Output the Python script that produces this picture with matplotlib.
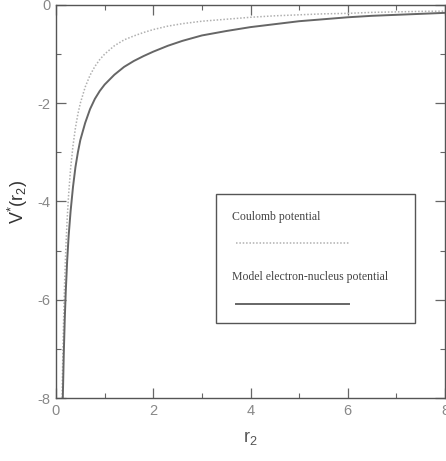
import matplotlib
matplotlib.use("Agg")
import matplotlib.pyplot as plt
from matplotlib.patches import Rectangle
from matplotlib.lines import Line2D

plt.rcParams['font.family'] = ['Liberation Sans', 'DejaVu Sans']
plt.rcParams['axes.unicode_minus'] = False
plt.rcParams['mathtext.default'] = 'regular'

# data
r_values = [0.125, 0.14, 0.16, 0.18, 0.2, 0.23, 0.26, 0.3, 0.35, 0.4, 0.45, 0.5,
            0.6, 0.7, 0.8, 0.9, 1.0, 1.2, 1.4, 1.6, 1.8, 2.0, 2.3, 2.6, 3.0,
            3.5, 4.0, 4.5, 5.0, 5.5, 6.0, 6.5, 7.0, 7.5, 8.0]
coulomb = [-8.0, -7.14, -6.25, -5.56, -5.0, -4.35, -3.85, -3.33, -2.86, -2.5, -2.22, -2.0,
           -1.67, -1.43, -1.25, -1.11, -1.0, -0.83, -0.71, -0.63, -0.56, -0.5, -0.43, -0.38, -0.33,
           -0.29, -0.25, -0.22, -0.2, -0.18, -0.17, -0.15, -0.14, -0.13, -0.125]
model = [-9.0, -8.0, -7.1, -6.4, -5.85, -5.2, -4.7, -4.2, -3.7, -3.3, -3.0, -2.75,
         -2.4, -2.12, -1.91, -1.75, -1.62, -1.42, -1.26, -1.14, -1.04, -0.95, -0.83, -0.73, -0.62,
         -0.53, -0.45, -0.39, -0.33, -0.29, -0.25, -0.22, -0.20, -0.18, -0.16]

x_ticks = [0, 2, 4, 6, 8]
y_ticks = [-8, -6, -4, -2, 0]
labels = ["Coulomb potential", "Model electron-nucleus potential"]

fig = plt.figure(figsize=(4.46, 4.61), dpi=100)
ax = fig.add_axes([56/446, 1 - 398/461, 389/446, 393/461])

ax.plot(r_values, coulomb, color='#b0b0b0', lw=1.1, linestyle=(0, (1, 1.2)))
ax.plot(r_values, model, color='#666666', lw=1.4)

ax.set_xlim(0, 8)
ax.set_ylim(-8, 0)
ax.set_xticks(x_ticks)
ax.set_yticks(y_ticks)
ax.set_xticks([1, 3, 5, 7], minor=True)
ax.set_yticks([-7, -5, -3, -1], minor=True)
ax.tick_params(which='both', direction='in', top=True, right=True, colors='#666666',
               labelcolor='#888888', labelsize=10.5)
ax.tick_params(which='major', length=7, width=0.9, pad=4)
ax.tick_params(which='minor', length=3.5, width=0.8)
for s in ax.spines.values():
    s.set_color('#555555')
    s.set_linewidth(1.0)

ax.set_xlabel('r$_2$', fontsize=13, color='#555555', labelpad=8)
ax.set_ylabel('V$^{*}$(r$_2$)', fontsize=13, color='#333333', labelpad=5)

# legend box
ax.add_patch(Rectangle((0.411, 0.191), 0.512, 0.328, transform=ax.transAxes,
                       fill=False, edgecolor='#555555', lw=1.0))
serif = ['Liberation Serif', 'DejaVu Serif']
ax.text(0.452, 0.461, labels[0], transform=ax.transAxes, family=serif,
        fontsize=8.5, color='#444444', va='center', ha='left')
ax.add_line(Line2D([0.463, 0.756], [0.394, 0.394], transform=ax.transAxes,
                   color='#b0b0b0', lw=1.1, linestyle=(0, (1, 1.2))))
ax.text(0.452, 0.308, labels[1], transform=ax.transAxes, family=serif,
        fontsize=8.5, color='#444444', va='center', ha='left')
ax.add_line(Line2D([0.463, 0.753], [0.239, 0.239], transform=ax.transAxes,
                   color='#666666', lw=1.4))

fig.savefig('out.png', dpi=100)
